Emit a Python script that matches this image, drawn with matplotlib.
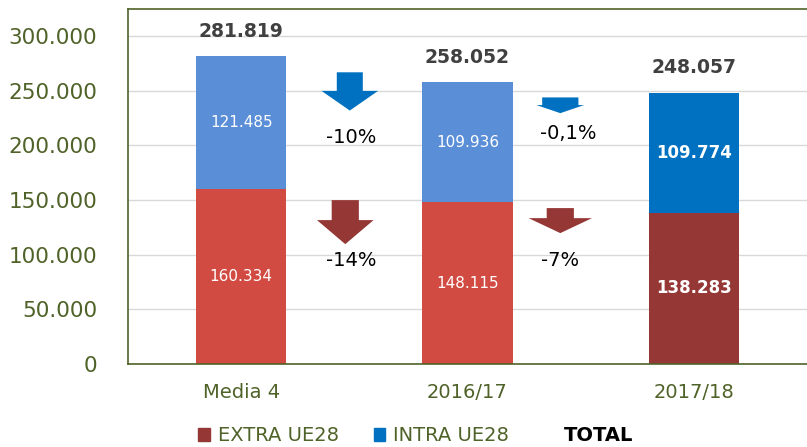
import matplotlib.pyplot as plt
import matplotlib.patches as mpatches
from matplotlib.ticker import FuncFormatter

# data
categories = ['Media 4', '2016/17', '2017/18']
extra = [160334, 148115, 138283]
intra = [121485, 109936, 109774]
totals = [281819, 258052, 248057]
extra_chg = ['-14%', '-7%']
intra_chg = ['-10%', '-0,1%']

extra_colors = ['#D24B43', '#D24B43', '#953735']
intra_colors = ['#5A8FD8', '#5A8FD8', '#0070C0']
olive = '#4F6228'


def fmt(v):
    return f'{v:,.0f}'.replace(',', '.')


fig = plt.figure(figsize=(8.07, 4.47), dpi=100)
ax = fig.add_axes([0.1586, 0.1857, 0.8414, 0.7943])

x = range(len(categories))
bars_e = ax.bar(x, extra, width=0.4, color=extra_colors, zorder=2)
bars_i = ax.bar(x, intra, width=0.4, bottom=extra, color=intra_colors, zorder=2)

for i in x:
    bold = 'bold' if i == 2 else 'normal'
    size = 12 if i == 2 else 11
    ax.text(i, extra[i] / 2, fmt(extra[i]), ha='center', va='center',
            color='white', fontsize=size, fontweight=bold, zorder=3)
    ax.text(i, extra[i] + intra[i] / 2, fmt(intra[i]), ha='center', va='center',
            color='white', fontsize=size, fontweight=bold, zorder=3)
    ax.annotate(fmt(totals[i]), (i, totals[i]), xytext=(0, 18), textcoords='offset points',
                ha='center', va='center', fontsize=13.5, fontweight='bold', color='#404040')


def down_arrow(xc, ytop, yhead, ytip, shaft_w, head_w, color):
    pts = [(xc - shaft_w / 2, ytop), (xc + shaft_w / 2, ytop), (xc + shaft_w / 2, yhead),
           (xc + head_w / 2, yhead), (xc, ytip), (xc - head_w / 2, yhead),
           (xc - shaft_w / 2, yhead)]
    ax.add_patch(mpatches.Polygon(pts, closed=True, color=color, zorder=3, lw=0))


# change arrows between bars
down_arrow(0.48, 267000, 250000, 232000, 0.115, 0.25, '#0070C0')
down_arrow(0.46, 150000, 131700, 109700, 0.12, 0.25, '#953735')
down_arrow(1.41, 244000, 237000, 229600, 0.16, 0.21, '#0070C0')
down_arrow(1.41, 142700, 133500, 119800, 0.12, 0.28, '#953735')

ax.text(0.485, 207600, intra_chg[0], ha='center', va='center', fontsize=14)
ax.text(0.485, 95100, extra_chg[0], ha='center', va='center', fontsize=14)
ax.text(1.445, 211300, intra_chg[1], ha='center', va='center', fontsize=14)
ax.text(1.41, 95100, extra_chg[1], ha='center', va='center', fontsize=14)

ax.set_xlim(-0.5, 2.5)
ax.set_ylim(0, 325000)
ax.set_yticks(range(0, 300001, 50000))
ax.yaxis.set_major_formatter(FuncFormatter(lambda v, p: fmt(v)))
ax.set_xticks(list(x))
ax.set_xticklabels(categories)
ax.tick_params(axis='y', length=0, pad=22, labelsize=15.5, labelcolor=olive)
ax.tick_params(axis='x', length=0, pad=14, labelsize=14, labelcolor=olive)
ax.grid(axis='y', color='#D9D9D9', lw=1, zorder=0)
for s in ax.spines.values():
    s.set_color(olive)
    s.set_linewidth(1.2)
ax.spines['right'].set_visible(False)

handles = [mpatches.Patch(color='#953735'), mpatches.Patch(color='#0070C0'),
           mpatches.Patch(color='none')]
leg = fig.legend(handles, ['EXTRA UE28', 'INTRA UE28', 'TOTAL'], loc='center',
                 bbox_to_anchor=(0.515, 0.025), ncol=3, frameon=False, fontsize=14,
                 handlelength=0.6, handleheight=0.6, handletextpad=0.4, columnspacing=1.8)
for i, t in enumerate(leg.get_texts()):
    if i == 2:
        t.set_color('black')
        t.set_fontweight('bold')
    else:
        t.set_color(olive)

fig.savefig('out.png', dpi=100)
